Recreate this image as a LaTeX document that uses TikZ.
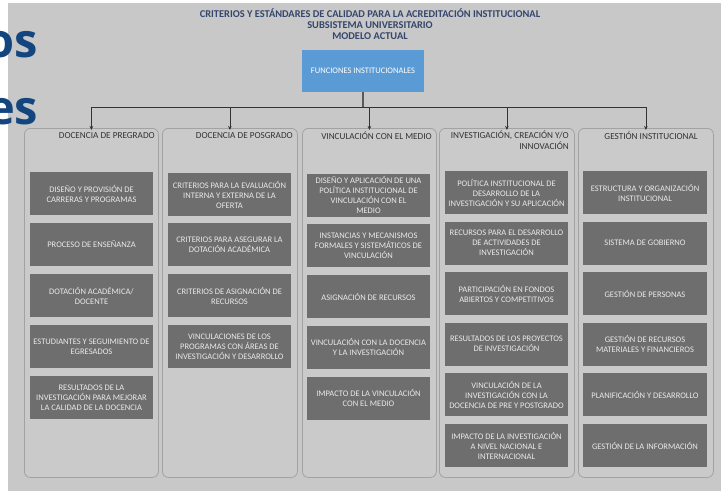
\documentclass[tikz,border=0pt]{standalone}
\usepackage{fontspec}
\setmainfont{Carlito}
\newfontfamily\bigfont{Open Sans}
\usetikzlibrary{arrows.meta}
\definecolor{bggray}{HTML}{C8C8C8}
\definecolor{panelfill}{HTML}{CACACA}
\definecolor{paneldraw}{HTML}{A2A2A2}
\definecolor{boxgray}{HTML}{6E6E6E}
\definecolor{boxtext}{HTML}{EAEAEA}
\definecolor{headtext}{HTML}{333333}
\definecolor{titletext}{HTML}{34466B}
\definecolor{funcblue}{HTML}{5B9BD5}
\definecolor{bigblue}{HTML}{13467F}
\tikzset{
  panel/.style={draw=paneldraw, fill=panelfill, line width=0.8pt, rounded corners=6pt, anchor=north west, inner sep=0pt},
  cbox/.style={fill=boxgray, text=boxtext, minimum width=123pt, minimum height=43pt, align=center, inner sep=1pt, font=\fontsize{8.5}{10}\selectfont},
  heading/.style={text=headtext, inner sep=0pt, font=\fontsize{9.2}{11}\selectfont},
  conn/.style={draw=black!80, line width=0.7pt},
  arr/.style={conn, -{Stealth[length=4pt,width=3.5pt]}},
}
\begin{document}
\begin{tikzpicture}[x=1pt,y=-1pt]
\useasboundingbox (0,0) rectangle (721,491);
\clip (0,0) rectangle (721,491);
\fill[white] (0,0) rectangle (721,491);
\fill[bggray] (8,3) rectangle (721,491);

% title
\node[text=titletext, align=center, inner sep=0pt, font=\bfseries\fontsize{10.4}{11.3}\selectfont] (title) at (370,24)
  {CRITERIOS Y ESTÁNDARES DE CALIDAD PARA LA ACREDITACIÓN INSTITUCIONAL\\SUBSISTEMA UNIVERSITARIO\\MODELO ACTUAL};

% top box
\node[fill=funcblue, text=white, minimum width=122pt, minimum height=42pt, inner sep=0pt, font=\fontsize{8.5}{10}\selectfont] (func) at (363,71) {FUNCIONES INSTITUCIONALES};

% panels
\node[panel, minimum width=134pt, minimum height=349pt] (p1) at (24,128) {};
\node[panel, minimum width=135pt, minimum height=349pt] (p2) at (162,128) {};
\node[panel, minimum width=134pt, minimum height=349pt] (p3) at (302,128) {};
\node[panel, minimum width=135pt, minimum height=349pt] (p4) at (439,128) {};
\node[panel, minimum width=135pt, minimum height=349pt] (p5) at (578,128) {};

% connectors
\coordinate (hub) at (func.south |- 0,107);
\draw[draw=gray!70!black, line width=1.3pt] (func.south) -- (hub);
\coordinate (hl) at (p1.north |- hub);
\coordinate (hr) at (p5.north |- hub);
\draw[conn] (hl) -- (hr);
\draw[arr] (hl) -- ([yshift=-2pt]p1.north);
\draw[arr] (p2.north |- hub) -- ([yshift=-2pt]p2.north);
\draw[arr] (p3.north |- hub) -- ([yshift=-2pt]p3.north);
\draw[arr] (p4.north |- hub) -- ([yshift=-2pt]p4.north);
\draw[arr] (hr) -- ([yshift=-2pt]p5.north);

% headings
\node[heading, anchor=east] (h1) at (155,136) {DOCENCIA DE PREGRADO};
\node[heading, anchor=east] (h2) at (293,136) {DOCENCIA DE POSGRADO};
\node[heading, anchor=east] (h3) at (432,136) {VINCULACIÓN CON EL MEDIO};
\node[heading, anchor=north east, align=right] (h4) at (569,130.5) {INVESTIGACIÓN, CREACIÓN Y/O\\INNOVACIÓN};
\node[heading, anchor=east] (h5) at (698,136) {GESTIÓN INSTITUCIONAL};

% column 1
\node[cbox] (a1) at (91.5,193.5) {DISEÑO Y PROVISIÓN DE\\CARRERAS Y PROGRAMAS};
\node[cbox] (a2) at (91.5,244.5) {PROCESO DE ENSEÑANZA};
\node[cbox] (a3) at (91.5,295.5) {DOTACIÓN ACADÉMICA/\\DOCENTE};
\node[cbox] (a4) at (91.5,346.5) {ESTUDIANTES Y SEGUIMIENTO DE\\EGRESADOS};
\node[cbox] (a5) at (91.5,397.5) {RESULTADOS DE LA\\INVESTIGACIÓN PARA MEJORAR\\LA CALIDAD DE LA DOCENCIA};

% column 2
\node[cbox] (b1) at (229.5,194.5) {CRITERIOS PARA LA EVALUACIÓN\\INTERNA Y EXTERNA DE LA\\OFERTA};
\node[cbox] (b2) at (229.5,244.5) {CRITERIOS PARA ASEGURAR LA\\DOTACIÓN ACADÉMICA};
\node[cbox] (b3) at (229.5,295.5) {CRITERIOS DE ASIGNACIÓN DE\\RECURSOS};
\node[cbox] (b4) at (229.5,346.5) {VINCULACIONES DE LOS\\PROGRAMAS CON ÁREAS DE\\INVESTIGACIÓN Y DESARROLLO};

% column 3
\node[cbox] (c1) at (368.5,195) {DISEÑO Y APLICACIÓN DE UNA\\POLÍTICA INSTITUCIONAL DE\\VINCULACIÓN CON EL\\MEDIO};
\node[cbox] (c2) at (368.5,245.5) {INSTANCIAS Y MECANISMOS\\FORMALES Y SISTEMÁTICOS DE\\VINCULACIÓN};
\node[cbox] (c3) at (368.5,296.5) {ASIGNACIÓN DE RECURSOS};
\node[cbox] (c4) at (368.5,347) {VINCULACIÓN CON LA DOCENCIA\\Y LA INVESTIGACIÓN};
\node[cbox] (c5) at (368.5,398) {IMPACTO DE LA VINCULACIÓN\\CON EL MEDIO};

% column 4
\node[cbox] (d1) at (506.5,192.5) {POLÍTICA INSTITUCIONAL DE\\DESARROLLO DE LA\\INVESTIGACIÓN Y SU APLICACIÓN};
\node[cbox] (d2) at (506.5,243) {RECURSOS PARA EL DESARROLLO\\DE ACTIVIDADES DE\\INVESTIGACIÓN};
\node[cbox] (d3) at (506.5,293.5) {PARTICIPACIÓN EN FONDOS\\ABIERTOS Y COMPETITIVOS};
\node[cbox] (d4) at (506.5,344) {RESULTADOS DE LOS PROYECTOS\\DE INVESTIGACIÓN};
\node[cbox] (d5) at (506.5,394.5) {VINCULACIÓN DE LA\\INVESTIGACIÓN CON LA\\DOCENCIA DE PRE Y POSTGRADO};
\node[cbox] (d6) at (506.5,445.5) {IMPACTO DE LA INVESTIGACIÓN\\A NIVEL NACIONAL E\\INTERNACIONAL};

% column 5
\node[cbox, minimum width=124pt] (e1) at (645,192.5) {ESTRUCTURA Y ORGANIZACIÓN\\INSTITUCIONAL};
\node[cbox, minimum width=124pt] (e2) at (645,243) {SISTEMA DE GOBIERNO};
\node[cbox, minimum width=124pt] (e3) at (645,293.5) {GESTIÓN DE PERSONAS};
\node[cbox, minimum width=124pt] (e4) at (645,344) {GESTIÓN DE RECURSOS\\MATERIALES Y FINANCIEROS};
\node[cbox, minimum width=124pt] (e5) at (645,394.5) {PLANIFICACIÓN Y DESARROLLO};
\node[cbox, minimum width=124pt] (e6) at (645,445.5) {GESTIÓN DE LA INFORMACIÓN};

% slide text fragments
\node[anchor=base west, inner sep=0pt, text=bigblue, font=\bigfont\bfseries\fontsize{47}{47}\selectfont] (os) at (-15,57) {os};
\node[anchor=base west, inner sep=0pt, text=bigblue, font=\bigfont\bfseries\fontsize{47}{47}\selectfont] (es) at (-13,124) {es};
\end{tikzpicture}
\end{document}
